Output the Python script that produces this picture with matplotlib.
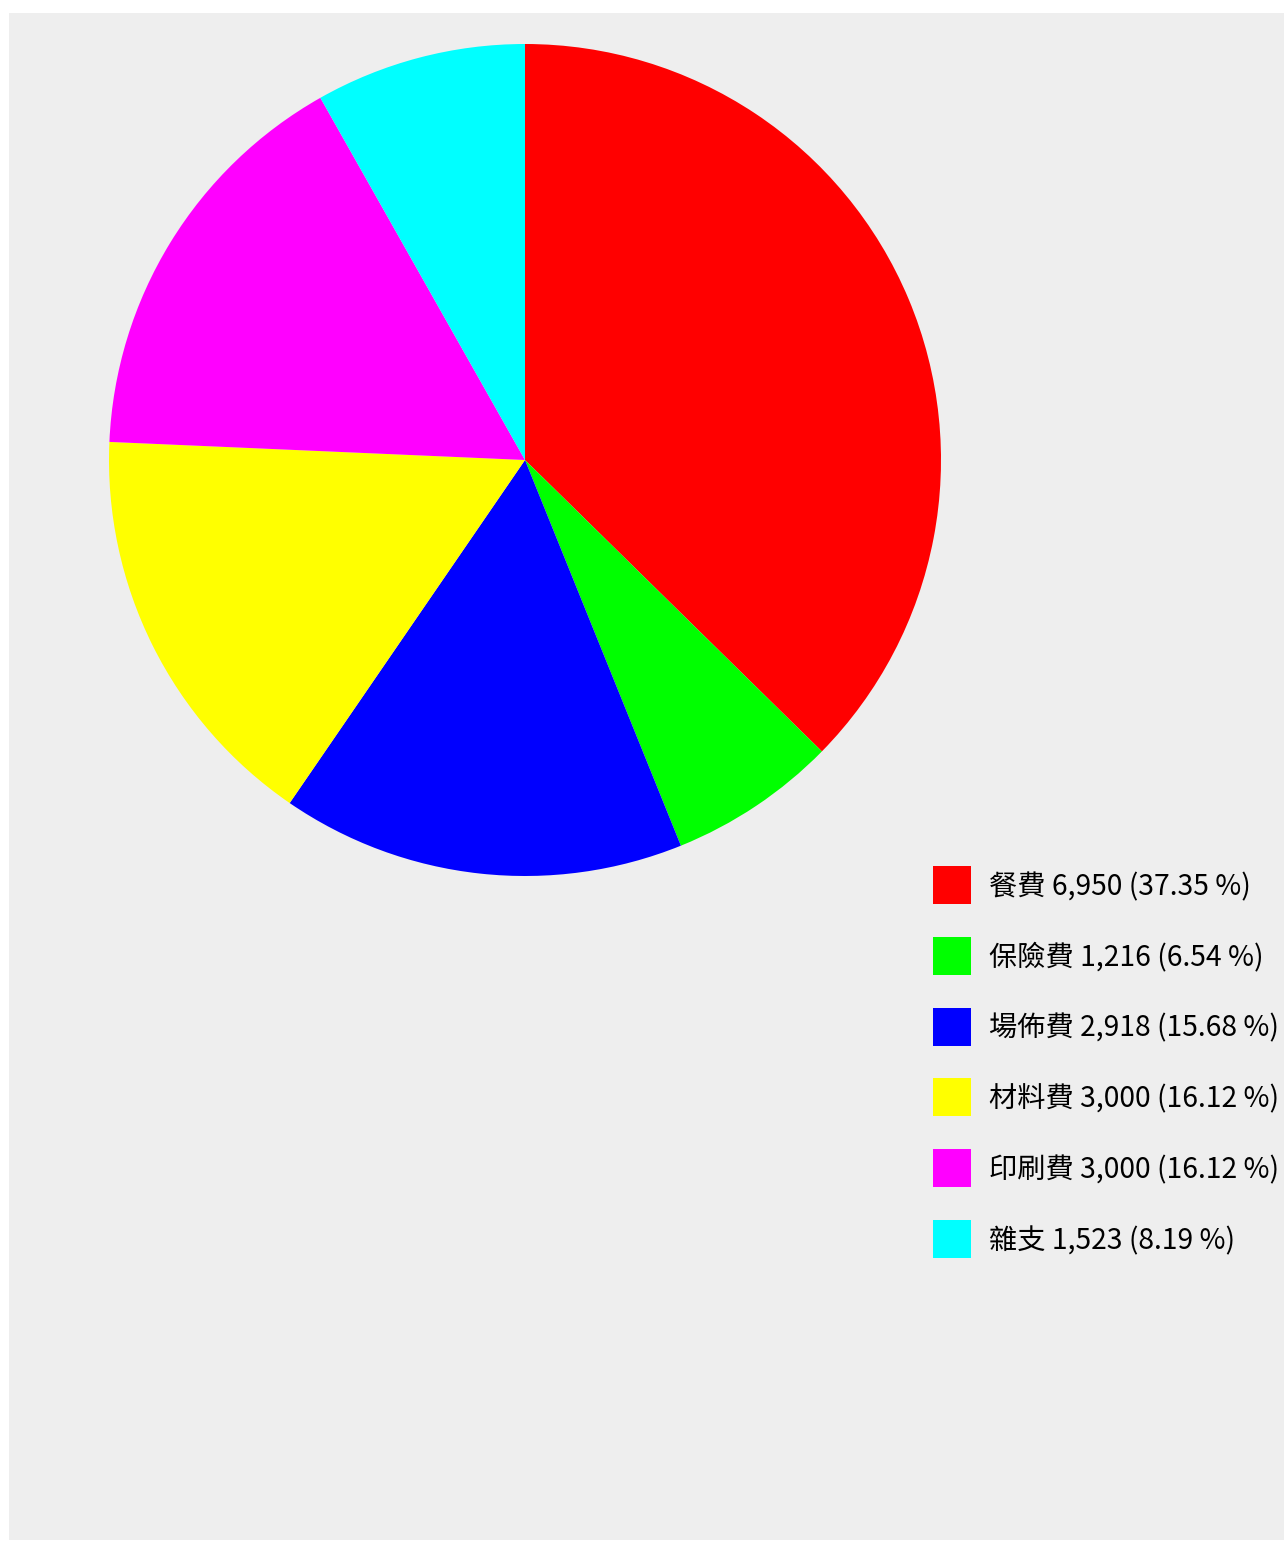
import matplotlib.pyplot as plt
from matplotlib.patches import Rectangle

plt.rcParams['font.family'] = ['Noto Sans CJK TC', 'DejaVu Sans']

# data
categories = ['餐費', '保險費', '場佈費', '材料費', '印刷費', '雜支']
values = [6950, 1216, 2918, 3000, 3000, 1523]
colors = ['#FF0000', '#00FF00', '#0000FF', '#FFFF00', '#FF00FF', '#00FFFF']

W, H = 1284, 1541
fig = plt.figure(figsize=(W / 100, H / 100), dpi=100, facecolor='white')

# gray panel
fig.patches.append(Rectangle((9 / W, 1 / H), 1 - 9 / W, (1540 - 13) / H,
                             transform=fig.transFigure, facecolor='#EEEEEE',
                             edgecolor='none', zorder=-5))

# pie
cx, cy, r = 525, 460, 416
ax = fig.add_axes([(cx - r) / W, (H - cy - r) / H, 2 * r / W, 2 * r / H])
ax.set_zorder(2)
ax.pie(values, colors=colors, startangle=90, counterclock=False, radius=1,
       wedgeprops=dict(linewidth=0))
ax.set_xlim(-1, 1)
ax.set_ylim(-1, 1)
ax.set_axis_off()

# legend
total = sum(values)
sq = 38
for i, (name, v, c) in enumerate(zip(categories, values, colors)):
    yc = 885 + i * 70.8
    fig.patches.append(Rectangle((933 / W, (H - yc - sq / 2) / H), sq / W, sq / H,
                                 transform=fig.transFigure, facecolor=c,
                                 edgecolor='none', zorder=2))
    label = f'{name} {v:,} ({v / total * 100:.2f} %)'
    fig.text(989 / W, (H - yc - 2) / H, label, fontsize=20.3, va='center', ha='left',
             color='black')

fig.savefig('out.png', dpi=100, facecolor='white')
